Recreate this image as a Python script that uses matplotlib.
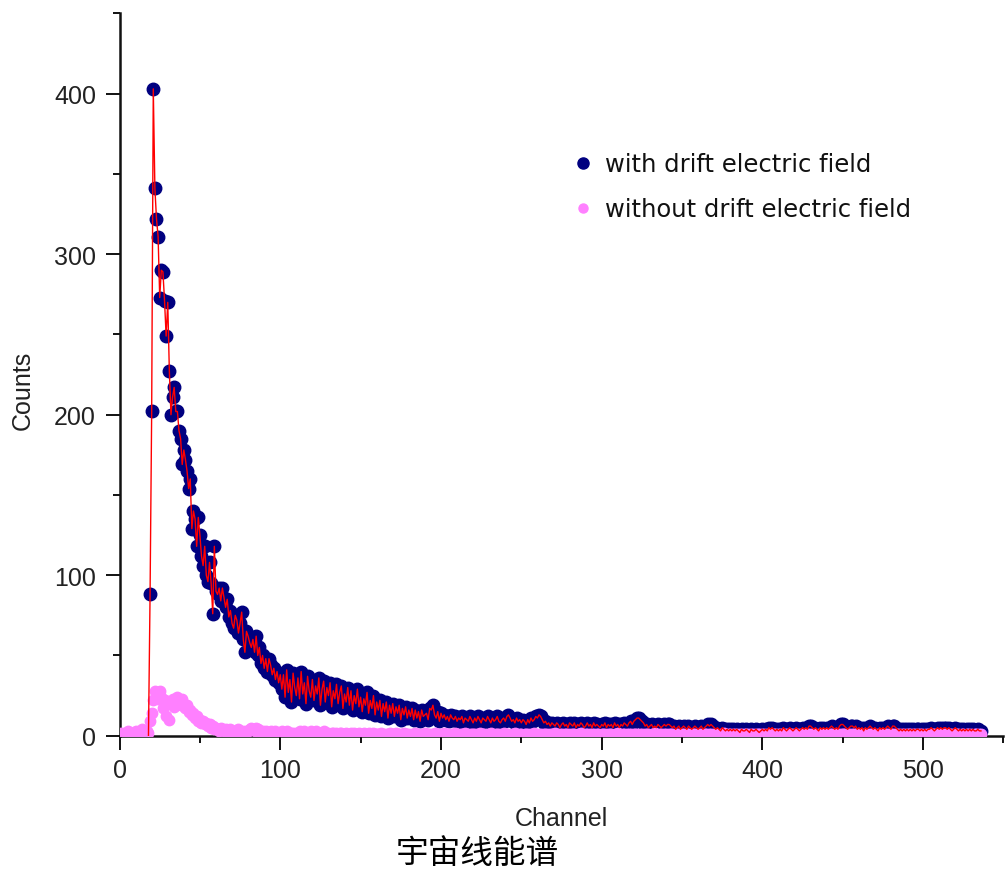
import matplotlib
matplotlib.use("Agg")
import matplotlib.pyplot as plt
import matplotlib.ticker as ticker
from matplotlib.lines import Line2D
import numpy as np

plt.rcParams['font.family'] = ['Liberation Sans', 'DejaVu Sans']

########################### data ###########################
# with drift electric field, channels 19..536
with_field = [
    88, 202,
    403, 341, 322, 311, 273, 290, 289, 271, 249, 270,
    227, 200, 211, 217, 202, 202, 190, 185, 169, 178,
    172, 165, 154, 160, 129, 140, 135, 118, 136, 125,
    112, 106, 118, 100, 96, 108, 95, 76, 118, 90,
    88, 92, 84, 92, 86, 80, 85, 74, 78, 70,
    67, 75, 72, 64, 70, 77, 60, 52, 65, 62,
    58, 55, 60, 52, 62, 50, 55, 45, 50, 42,
    48, 40, 48, 44, 38, 42, 35, 40, 33, 38,
    29, 38, 24, 41, 27, 35, 21, 39, 30, 25,
    36, 23, 40, 26, 33, 20, 37, 28, 24, 35,
    22, 31, 26, 36, 19, 29, 34, 21, 30, 25,
    33, 18, 28, 23, 32, 20, 27, 31, 17, 26,
    21, 30, 19, 28, 16, 25, 20, 29, 18, 24,
    15, 23, 19, 27, 14, 22, 17, 25, 13, 21,
    16, 22, 12, 20, 15, 21, 11, 19, 14, 20,
    12, 18, 14, 19, 10, 17, 13, 18, 11, 16,
    12, 17, 10, 16, 11, 15, 9, 16, 12, 13,
    14, 10, 17, 16, 19, 13, 11, 15, 9, 14,
    11, 13, 10, 12, 9, 13, 11, 10, 12, 9,
    11, 10, 12, 8, 11, 10, 9, 12, 10, 8,
    11, 9, 12, 10, 8, 11, 10, 9, 12, 10,
    8, 11, 9, 10, 12, 9, 8, 10, 11, 9,
    12, 13, 11, 9, 10, 8, 11, 9, 10, 8,
    10, 9, 7, 10, 8, 11, 9, 10, 12, 11,
    13, 12, 10, 8, 9, 7, 8, 6, 8, 7,
    6, 8, 7, 5, 7, 8, 6, 7, 5, 8,
    7, 6, 8, 5, 7, 6, 8, 7, 5, 6,
    8, 6, 7, 5, 8, 6, 7, 6, 5, 7,
    6, 8, 5, 7, 6, 7, 5, 8, 6, 7,
    5, 7, 6, 8, 7, 6, 8, 9, 7, 9,
    10, 11, 11, 10, 9, 8, 6, 7, 5, 6,
    7, 5, 6, 5, 7, 6, 5, 6, 7, 6,
    7, 7, 6, 5, 6, 4, 5, 6, 4, 5,
    6, 5, 4, 6, 5, 4, 5, 6, 5, 4,
    5, 6, 4, 5, 6, 7, 6, 7, 6, 5,
    4, 5, 4, 3, 5, 4, 3, 4, 3, 4,
    3, 4, 3, 4, 3, 2, 4, 3, 3, 4,
    3, 2, 4, 3, 3, 4, 3, 2, 3, 4,
    3, 4, 3, 5, 4, 5, 4, 3, 4, 3,
    4, 3, 5, 4, 3, 4, 5, 4, 3, 4,
    5, 4, 3, 4, 5, 4, 5, 4, 6, 6,
    5, 4, 5, 4, 3, 5, 4, 5, 4, 5,
    4, 5, 6, 5, 4, 5, 4, 6, 7, 7,
    6, 5, 4, 5, 6, 6, 5, 6, 4, 5,
    4, 5, 3, 5, 4, 5, 6, 5, 4, 5,
    4, 3, 5, 4, 5, 4, 5, 6, 5, 4,
    6, 6, 5, 4, 3, 4, 3, 4, 3, 4,
    3, 4, 3, 4, 3, 4, 4, 3, 4, 3,
    4, 3, 4, 4, 5, 4, 3, 4, 5, 4,
    5, 4, 5, 5, 4, 5, 4, 3, 4, 5,
    4, 3, 4, 3, 4, 3, 4, 3, 4, 3,
    4, 3, 3, 4, 3, 3,
]
with_start = 19

# without drift electric field, channels 0..536
without_field = [
    1, 2, 1, 2, 2, 3, 2, 1, 2, 2, 3, 2, 2, 3, 4, 3, 2, 3, 2,
    9,
    14, 22, 28, 26, 23, 28, 24, 17, 22, 12,
    20, 10, 21, 23, 18, 22, 24, 21, 19, 23,
    20, 17, 19, 15, 16, 13, 14, 11, 12, 9,
    10, 8, 9, 7, 8, 6, 7, 5, 6, 4,
    5,
    4, 3, 5, 4, 3, 4, 3, 2, 4, 3,
    3, 2, 3, 4, 2, 3, 2, 3, 2, 3,
    4, 5, 4, 3, 5, 4, 3, 2, 3, 2,
    3, 2, 2, 3, 2, 2, 3, 2, 1, 2,
    3, 2, 2, 3, 2, 1, 2, 2, 1, 2,
    2, 3, 2, 2, 3, 2, 1, 2, 3, 2,
    2, 3, 2, 1, 2, 2, 3, 2, 1, 2,
    1, 2, 2, 1, 2, 1, 2, 2, 1, 1,
    2, 1, 1, 2, 1, 2, 1, 1, 2, 1,
    1, 2, 1, 1, 2, 1, 1, 2, 1, 1,
    1, 1, 2, 1, 0, 1, 1, 2, 1, 1,
    1, 2, 1, 1, 0, 1, 2, 1, 1, 1,
    0, 1, 1, 2, 1, 1, 0, 1, 1, 2,
    1, 1, 1, 0, 1, 2, 1, 1, 0, 1,
    1, 2, 1, 1, 1, 0, 1, 1, 2, 1,
    0, 1, 1, 1, 2, 1, 0, 1, 1, 1,
    1, 0, 1, 2, 1, 1, 1, 0, 1, 1,
    2, 1, 0, 1, 1, 1, 0, 1, 2, 1,
    1, 1, 0, 1, 1, 2, 1, 0, 1, 1,
    0, 1, 1, 1, 0, 1, 1, 2, 1, 0,
    1, 1, 0, 1, 1, 1, 0, 1, 1, 1,
    2, 1, 0, 1, 1, 0, 1, 1, 1, 0,
    1, 1, 1, 0, 1, 1, 2, 1, 0, 1,
    1, 0, 1, 1, 1, 0, 1, 1, 0, 1,
    1, 1, 0, 1, 1, 1, 0, 1, 1, 2,
    1, 0, 1, 1, 0, 1, 1, 1, 0, 1,
    1, 1, 0, 1, 1, 0, 1, 1, 1, 0,
    1, 1, 2, 1, 0, 1, 1, 0, 1, 1,
    0, 1, 1, 1, 0, 1, 1, 0, 1, 1,
    1, 0, 1, 1, 0, 1, 1, 1, 0, 1,
    1, 0, 1, 1, 1, 0, 1, 1, 0, 1,
    1, 1, 0, 1, 1, 2, 1, 0, 1, 1,
    0, 1, 1, 1, 0, 1, 1, 0, 1, 1,
    1, 0, 1, 1, 0, 1, 1, 1, 0, 1,
    1, 0, 1, 1, 1, 0, 1, 1, 0, 1,
    1, 1, 0, 1, 1, 0, 1, 1, 1, 0,
    1, 1, 0, 1, 1, 1, 0, 1, 1, 0,
    1, 1, 1, 0, 1, 1, 0, 1, 1, 1,
    0, 1, 1, 0, 1, 1, 1, 0, 1, 1,
    1, 0, 1, 1, 0, 1, 1, 1, 0, 1,
    1, 1, 0, 1, 1, 0, 1, 1, 1, 0,
    0, 1, 1, 1, 0, 1, 1, 0, 1, 1,
    1, 0, 1, 1, 1, 0, 1, 1, 0, 1,
    1, 1, 0, 1, 1, 0, 1, 1, 1, 0,
    0, 1, 1, 0, 1, 1, 1, 0, 1, 1,
    1, 0, 1, 1, 0, 1, 1, 1, 0, 1,
    1, 1, 0, 1, 1, 0, 1, 1, 0, 1,
    0, 1, 1, 0, 1, 1,
]
without_start = 0

labels = ['with drift electric field', 'without drift electric field']
caption = '宇宙线能谱'

x_with = np.arange(with_start, with_start + len(with_field))
x_without = np.arange(without_start, without_start + len(without_field))

navy = '#000080'
pink = '#FF80FF'
red = '#FF0000'
txt = '#222222'

#################################################################################

fig = plt.figure(figsize=(10.07, 8.70), dpi=100)
ax = fig.add_axes([0.1187, 0.1532, 0.8778, 0.8302])

ax.plot(x_with, with_field, 'o', color=navy, ms=9, mec=navy, zorder=2)
ax.plot(x_without, without_field, 'o', color=pink, ms=7.5, mec=pink, zorder=3)
# fit line drawn through the points, starting from the baseline
ax.plot(np.concatenate([[with_start - 1], x_with]), [0] + with_field,
        '-', color=red, lw=1.0, zorder=4)

ax.set_xlim(0, 550)
ax.set_ylim(0, 450)
ax.xaxis.set_major_locator(ticker.MultipleLocator(100))
ax.xaxis.set_minor_locator(ticker.MultipleLocator(50))
ax.yaxis.set_major_locator(ticker.MultipleLocator(100))
ax.yaxis.set_minor_locator(ticker.MultipleLocator(50))

for s in ['top', 'right']:
    ax.spines[s].set_visible(False)
for s in ['left', 'bottom']:
    ax.spines[s].set_linewidth(1.8)
    ax.spines[s].set_color('#111111')

ax.tick_params(which='major', direction='out', length=10, width=1.4,
               labelsize=18, labelcolor=txt, color='#111111')
ax.tick_params(which='minor', direction='out', length=5, width=1.4, color='#111111')
ax.tick_params(axis='x', which='major', pad=6)
ax.tick_params(axis='y', which='major', pad=7)

ax.set_xlabel('Channel', fontsize=18, color=txt, va='center')
ax.xaxis.set_label_coords(0.5, -0.1136)
ax.set_ylabel('Counts', fontsize=18, color=txt, va='center')
ax.yaxis.set_label_coords(-0.110, 0.479)

handles = [Line2D([], [], ls='none', marker='o', ms=8, color=navy),
           Line2D([], [], ls='none', marker='o', ms=6.5, color=pink)]
leg = ax.legend(handles, labels, loc='upper left', bbox_to_anchor=(0.5107, 0.8075),
                frameon=False, borderaxespad=0, borderpad=0, handlelength=1.0,
                handletextpad=0.4, labelspacing=0.85,
                prop={'family': 'DejaVu Sans', 'size': 17.5})
for t in leg.get_texts():
    t.set_color('#111111')

fig.text(0.474, 0.018, caption, ha='center', va='center', fontsize=23.5,
         family=['Noto Sans CJK SC', 'DejaVu Sans'], color='black')

fig.savefig('out.png', dpi=100, facecolor='w')
